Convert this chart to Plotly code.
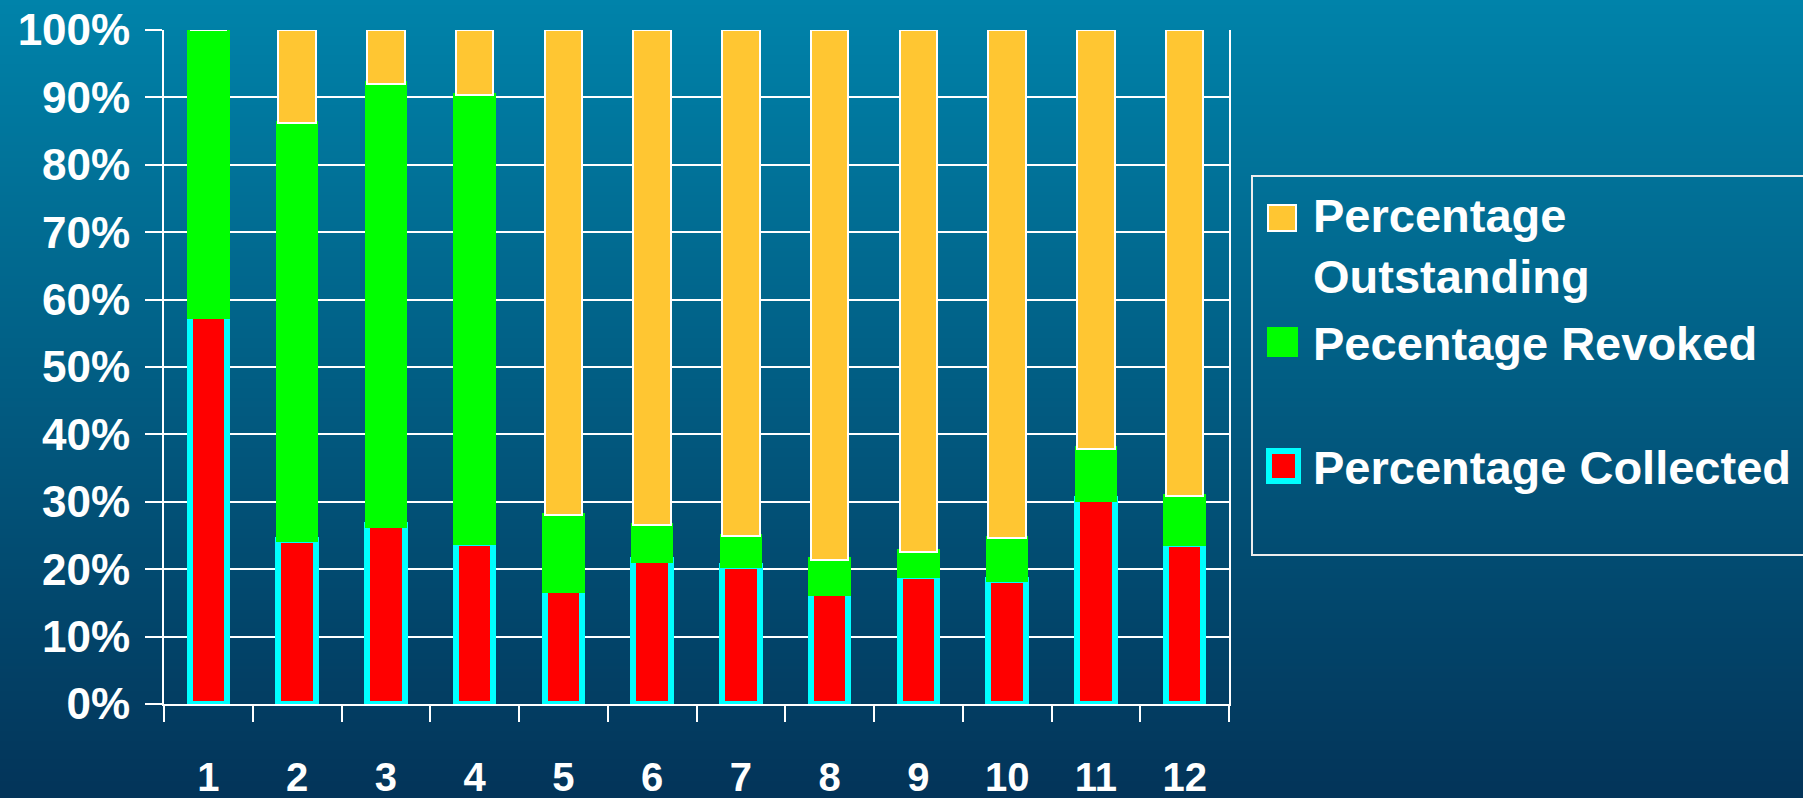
import base64
import struct
import zlib

import plotly.graph_objects as go

# ---------------- data ----------------
categories = ["1", "2", "3", "4", "5", "6", "7", "8", "9", "10", "11", "12"]
collected = [57.5, 24.4, 26.5, 23.9, 16.9, 21.3, 20.5, 16.4, 19.0, 18.4, 30.4, 23.8]
revoked = [42.5, 61.8, 65.5, 66.4, 11.1, 5.2, 4.4, 5.0, 3.6, 6.2, 7.5, 7.0]
outstanding = [0.0, 13.8, 8.0, 9.7, 72.0, 73.5, 75.1, 78.6, 77.4, 75.4, 62.1, 69.2]
y_ticks = [0, 10, 20, 30, 40, 50, 60, 70, 80, 90, 100]
y_tick_text = ["0%", "10%", "20%", "30%", "40%", "50%", "60%", "70%", "80%", "90%", "100%"]
legend_labels = ["Percentage<br>Outstanding", "Pecentage Revoked", "Percentage Collected"]

# ---------------- geometry / style ----------------
W, H = 1803, 798
PL, PR, PT, PB = 164, 1229, 30, 704  # plot area in pixels
FONT = "Liberation Sans, Arial, Helvetica, sans-serif"
RED, CYAN, GREEN, ORANGE = "#FF0000", "#00FFFF", "#00FF00", "#FFC632"


def px_x(p):
    return (p - PL) / (PR - PL)


def px_y(p):
    return (PB - p) / (PB - PT)


def gradient_png(top, bottom, h=256):
    raw = b""
    for i in range(h):
        t = i / (h - 1)
        c = bytes(round(top[k] + (bottom[k] - top[k]) * t) for k in range(3))
        raw += b"\x00" + c * 2

    def chunk(tag, data):
        return (struct.pack(">I", len(data)) + tag + data
                + struct.pack(">I", zlib.crc32(tag + data) & 0xFFFFFFFF))

    png = (b"\x89PNG\r\n\x1a\n"
           + chunk(b"IHDR", struct.pack(">IIBBBBB", 2, h, 8, 2, 0, 0, 0))
           + chunk(b"IDAT", zlib.compress(raw))
           + chunk(b"IEND", b""))
    return "data:image/png;base64," + base64.b64encode(png).decode()


fig = go.Figure()
fig.add_trace(go.Bar(x=categories, y=collected, name="Percentage Collected",
                     marker=dict(color=RED, line=dict(color=CYAN, width=6)),
                     cliponaxis=False, showlegend=False))
fig.add_trace(go.Bar(x=categories, y=revoked, name="Pecentage Revoked",
                     marker=dict(color=GREEN, line=dict(color=GREEN, width=5)),
                     cliponaxis=False, showlegend=False))
fig.add_trace(go.Bar(x=categories, y=outstanding, name="Percentage Outstanding",
                     marker=dict(color=ORANGE, line=dict(color="white", width=2)),
                     cliponaxis=False, showlegend=False))

fig.update_layout(
    width=W, height=H, autosize=False,
    margin=dict(l=PL, r=W - PR, t=PT, b=H - PB, pad=0, autoexpand=False),
    barmode="stack", bargap=0.58,
    paper_bgcolor="#03355A", plot_bgcolor="rgba(0,0,0,0)",
    xaxis=dict(type="category", tickson="boundaries", ticks="outside", ticklen=16,
               tickwidth=2, tickcolor="white", showline=True, linecolor="white",
               linewidth=2, showgrid=False,
               tickfont=dict(family=FONT, size=40, color="white", weight="bold"),
               ticklabelstandoff=37, automargin=False),
    yaxis=dict(range=[0, 100], tickmode="array", tickvals=y_ticks, ticktext=y_tick_text,
               ticks="outside", ticklen=17, tickwidth=2, tickcolor="white",
               showline=True, mirror=True, linecolor="white", linewidth=2,
               showgrid=True, gridcolor="white", gridwidth=2, zeroline=False,
               tickfont=dict(family=FONT, size=44, color="white", weight="bold"),
               ticklabelstandoff=6, automargin=False),
    images=[dict(source=gradient_png((0, 131, 170), (3, 52, 89)),
                 xref="paper", yref="paper", x=px_x(0), y=px_y(0),
                 sizex=px_x(W) - px_x(0), sizey=px_y(0) - px_y(H),
                 xanchor="left", yanchor="top", sizing="stretch", layer="below")],
)

# ---------------- manual legend ----------------
shapes = [dict(type="rect", xref="paper", yref="paper",
               x0=px_x(1252), x1=px_x(1830), y0=px_y(555), y1=px_y(176),
               line=dict(color="#EDEDED", width=2), fillcolor="rgba(0,0,0,0)")]
swatches = [
    (1268, 1296, 205, 231, ORANGE, "white", 2),
    (1268, 1297, 328, 356, GREEN, GREEN, 2),
    (1269, 1298, 451, 481, RED, CYAN, 6),
]
for x0, x1, y0, y1, fc, lc, lw in swatches:
    shapes.append(dict(type="rect", xref="paper", yref="paper",
                       x0=px_x(x0), x1=px_x(x1), y0=px_y(y1), y1=px_y(y0),
                       fillcolor=fc, line=dict(color=lc, width=lw)))
fig.update_layout(shapes=shapes)

label_y = [246, 343, 467]
for txt, py in zip(legend_labels, label_y):
    fig.add_annotation(text=txt, xref="paper", yref="paper", x=px_x(1311), y=px_y(py),
                       xanchor="left", yanchor="middle", align="left", showarrow=False,
                       font=dict(family=FONT, size=47, color="white", weight="bold"))

fig.write_html(
    "out.html",
    config={"displayModeBar": False},
    post_script="document.body.style.margin='0';document.body.style.overflow='hidden';",
)
